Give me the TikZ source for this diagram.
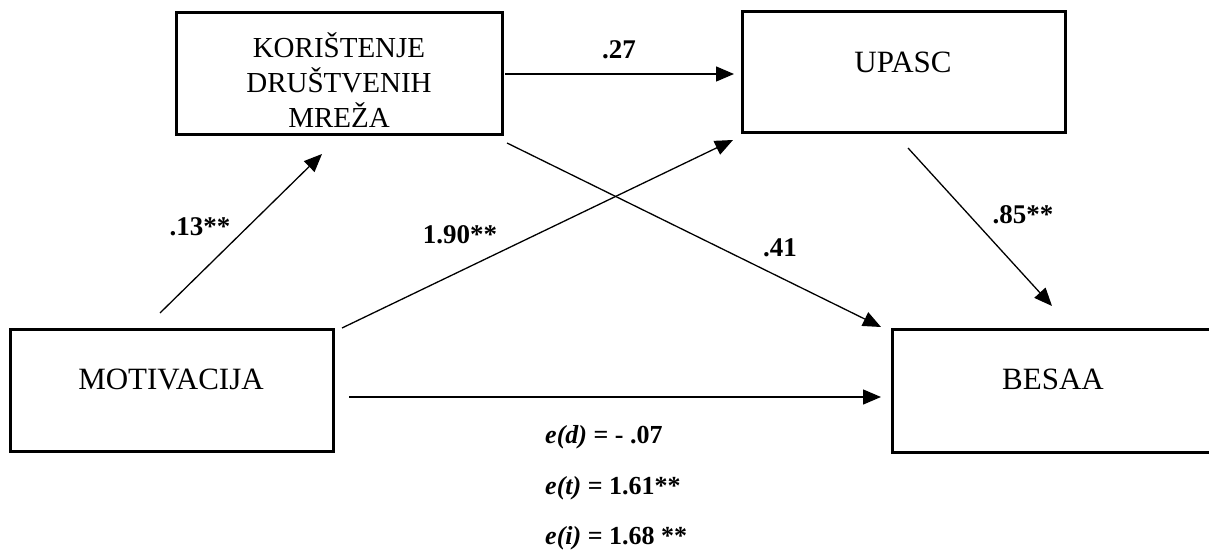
\documentclass[tikz,border=0pt]{standalone}
\usepackage{fontspec}
\setmainfont{Liberation Serif}
\usetikzlibrary{arrows.meta}
\begin{document}
\begin{tikzpicture}[x=1pt,y=-1pt,
  box/.style={draw, line width=3pt, inner sep=0pt},
  boxtext/.style={font=\fontsize{31}{37}\selectfont, inner sep=0pt, align=center},
  kortext/.style={font=\fontsize{29}{35}\selectfont, inner sep=0pt, align=center},
  lab/.style={font=\fontsize{27}{32}\selectfont\bfseries, inner sep=0pt},
  eff/.style={font=\fontsize{26}{31}\selectfont\bfseries, inner sep=0pt, anchor=base west},
  arr/.style={line width=1.3pt, -{Triangle[length=18pt,width=15pt]}}]
\useasboundingbox (0,0) rectangle (1209,553);
% boxes
\node[box, minimum width=326pt, minimum height=122pt] (kor) at (339,74) {};
\node[box, minimum width=323pt, minimum height=121pt] (upasc) at (903.5,72.5) {};
\node[box, minimum width=323pt, minimum height=122pt] (mot) at (171.5,390) {};
\node[box, minimum width=322pt, minimum height=123pt] (besaa) at (1053,390.5) {};
% box texts
\node[kortext] (korT) at (339,80) {KORIŠTENJE\\DRUŠTVENIH\\MREŽA};
\node[boxtext] (upT) at (903,62) {UPASC};
\node[boxtext] (motT) at (171,379) {MOTIVACIJA};
\node[boxtext] (besT) at (1053,379) {BESAA};
% connector end points
\coordinate (m1) at (160,313);
\coordinate (k1) at (322,154);
\coordinate (m2) at (342,328);
\coordinate (u1) at (733,140);
\coordinate (k2) at (505,74);
\coordinate (u2) at (734,74);
\coordinate (k3) at (507,143);
\coordinate (b1) at (881,327);
\coordinate (u3) at (908,148);
\coordinate (b2) at (1052,306);
\coordinate (m3) at (349,397);
\coordinate (b3) at (881,397);
% connectors
\draw[arr] (m1) -- (k1);
\draw[arr] (m2) -- (u1);
\draw[arr] (k2) -- (u2);
\draw[arr] (k3) -- (b1);
\draw[arr] (u3) -- (b2);
\draw[arr] (m3) -- (b3);
% labels
\node[lab] (l27) at (619,50) {.27};
\node[lab] (l13) at (200,227) {.13**};
\node[lab] (l190) at (460,235) {1.90**};
\node[lab] (l41) at (780,248) {.41};
\node[lab] (l85) at (1023,215) {.85**};
% effects
\node[eff] (ed) at (545,443) {\textit{e(d)} = - .07};
\node[eff] (et) at (545,494) {\textit{e(t)} = 1.61**};
\node[eff] (ei) at (545,544) {\textit{e(i)} = 1.68 **};
\end{tikzpicture}
\end{document}
